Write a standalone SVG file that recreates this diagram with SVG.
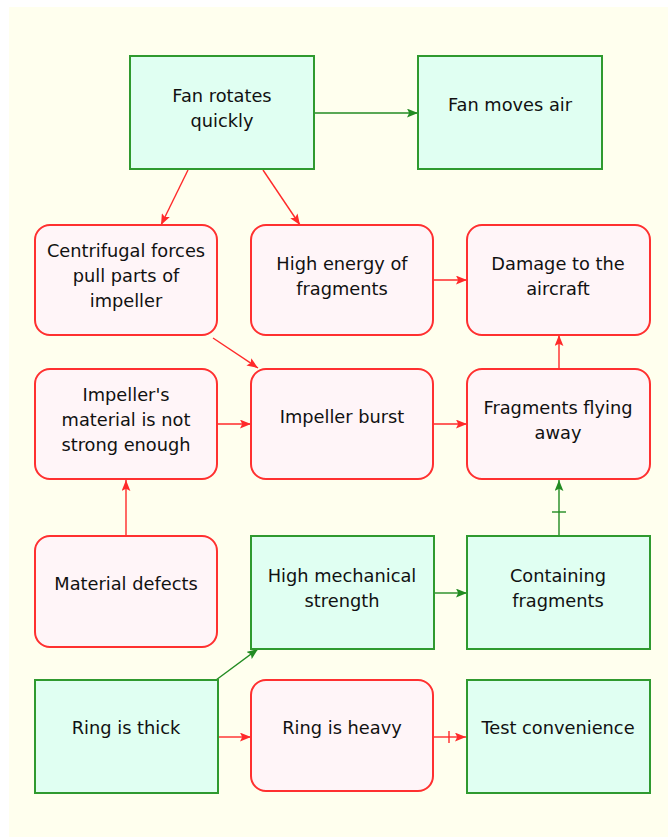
<svg xmlns="http://www.w3.org/2000/svg" width="668" height="837" viewBox="0 0 668 837">
<defs>
<style>
.g rect{fill:#e0fff2;stroke:#2f9a2f;stroke-width:2}
.r rect{fill:#fff5f8;stroke:#ff3030;stroke-width:2}
text{font-family:"DejaVu Sans","Liberation Sans",sans-serif;font-size:17.8px;fill:#111;text-anchor:middle;dominant-baseline:central}
.cr{stroke:#ff2a2a;stroke-width:1.4;fill:none;marker-end:url(#ar)}
.cg{stroke:#228b22;stroke-width:1.4;fill:none;marker-end:url(#ag)}
</style>
<marker id="ar" viewBox="0 0 10 8" refX="10" refY="4" markerWidth="11" markerHeight="9" markerUnits="userSpaceOnUse" orient="auto"><path d="M0,0 L10,4 L0,8 L2,4 Z" fill="#ff2a2a"/></marker>
<marker id="ag" viewBox="0 0 10 8" refX="10" refY="4" markerWidth="11" markerHeight="9" markerUnits="userSpaceOnUse" orient="auto"><path d="M0,0 L10,4 L0,8 L2,4 Z" fill="#228b22"/></marker>
</defs>
<rect x="9" y="7" width="659" height="830" fill="#ffffee"/>
<g id="connectors">
<path class="cg" d="M314,113 L418,113"/>
<path class="cr" d="M188,170 L161,225"/>
<path class="cr" d="M263,170 L300,225"/>
<path class="cr" d="M434,280 L467,280"/>
<path class="cr" d="M213,338 L258,368"/>
<path class="cr" d="M218,424 L251,424"/>
<path class="cr" d="M434,424 L467,424"/>
<path class="cr" d="M559,369 L559,335"/>
<path class="cr" d="M126,536 L126,480"/>
<path class="cg" d="M435,593 L467,593"/>
<path class="cg" d="M559,536 L559,480"/>
<path stroke="#228b22" stroke-width="1.4" d="M552,512 L566,512"/>
<path class="cg" d="M216,680 L258,649"/>
<path class="cr" d="M219,737 L251,737"/>
<path class="cr" d="M434,737 L466,737"/>
<path stroke="#ff2a2a" stroke-width="1.4" d="M449,731 L449,743"/>
</g>
<g id="fan_rotates" class="g"><rect x="130" y="56" width="184" height="113"/><text x="222" y="95">Fan rotates</text><text x="222" y="120">quickly</text></g>
<g id="fan_moves_air" class="g"><rect x="418" y="56" width="184" height="113"/><text x="510" y="104">Fan moves air</text></g>
<g id="centrifugal" class="r"><rect x="35" y="225" width="182" height="110" rx="15"/><text x="126" y="250">Centrifugal forces</text><text x="126" y="275">pull parts of</text><text x="126" y="300">impeller</text></g>
<g id="high_energy" class="r"><rect x="251" y="225" width="182" height="110" rx="15"/><text x="342" y="263">High energy of</text><text x="342" y="288">fragments</text></g>
<g id="damage" class="r"><rect x="467" y="225" width="183" height="110" rx="15"/><text x="558" y="263">Damage to the</text><text x="558" y="288">aircraft</text></g>
<g id="impeller_material" class="r"><rect x="35" y="369" width="182" height="110" rx="15"/><text x="126" y="394">Impeller's</text><text x="126" y="419">material is not</text><text x="126" y="444">strong enough</text></g>
<g id="impeller_burst" class="r"><rect x="251" y="369" width="182" height="110" rx="15"/><text x="342" y="416">Impeller burst</text></g>
<g id="fragments_flying" class="r"><rect x="467" y="369" width="183" height="110" rx="15"/><text x="558" y="407">Fragments flying</text><text x="558" y="432">away</text></g>
<g id="material_defects" class="r"><rect x="35" y="536" width="182" height="111" rx="15"/><text x="126" y="583">Material defects</text></g>
<g id="high_mech" class="g"><rect x="251" y="536" width="183" height="113"/><text x="342" y="575">High mechanical</text><text x="342" y="600">strength</text></g>
<g id="containing" class="g"><rect x="467" y="536" width="183" height="113"/><text x="558" y="575">Containing</text><text x="558" y="600">fragments</text></g>
<g id="ring_thick" class="g"><rect x="35" y="680" width="183" height="113"/><text x="126" y="727">Ring is thick</text></g>
<g id="ring_heavy" class="r"><rect x="251" y="680" width="182" height="111" rx="15"/><text x="342" y="727">Ring is heavy</text></g>
<g id="test_convenience" class="g"><rect x="467" y="680" width="183" height="113"/><text x="558" y="727">Test convenience</text></g>
</svg>
